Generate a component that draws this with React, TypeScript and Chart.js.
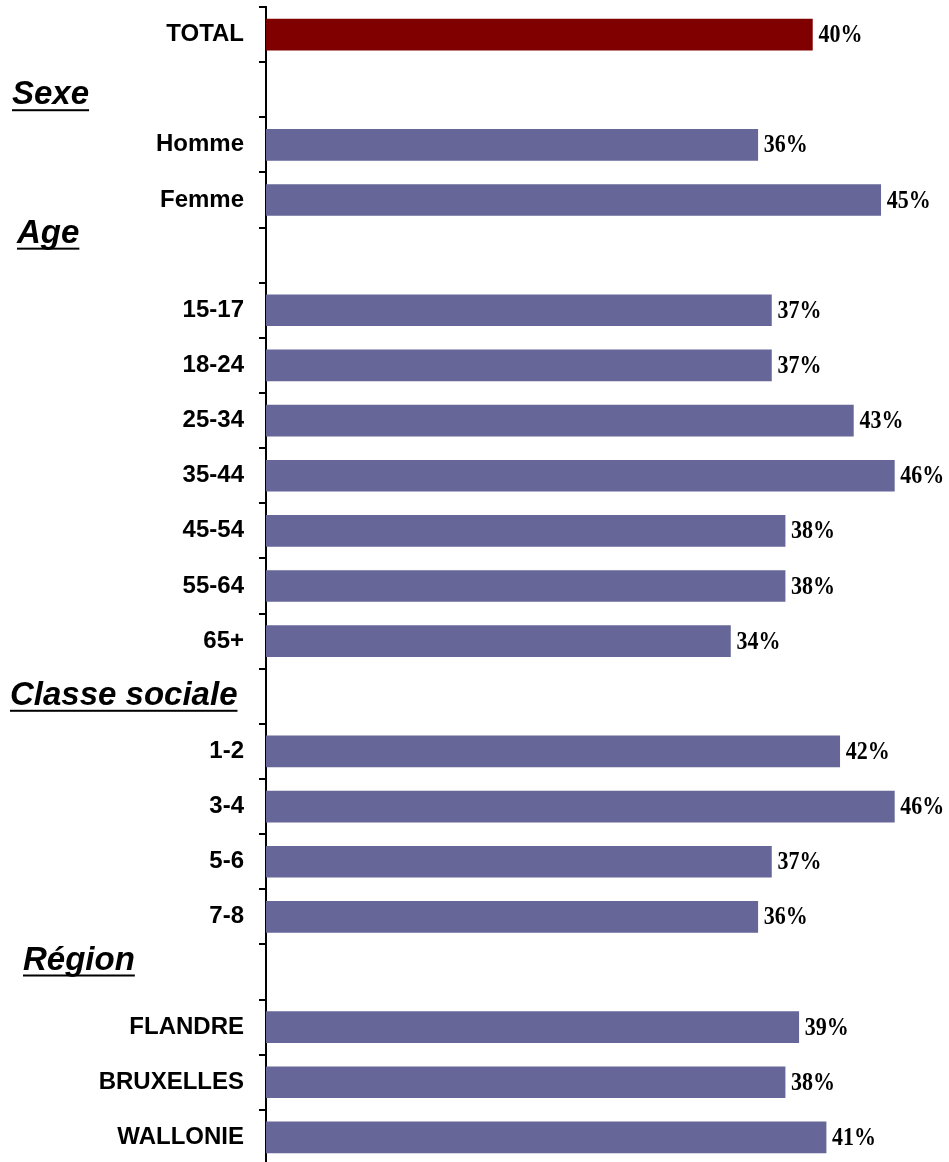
import React, { useEffect, useRef } from "react";
import { Chart, registerables } from "chart.js";

Chart.register(...registerables);

// ---- data ----
const categories: string[] = [
  "TOTAL",
  "",
  "Homme",
  "Femme",
  "",
  "15-17",
  "18-24",
  "25-34",
  "35-44",
  "45-54",
  "55-64",
  "65+",
  "",
  "1-2",
  "3-4",
  "5-6",
  "7-8",
  "",
  "FLANDRE",
  "BRUXELLES",
  "WALLONIE",
];

const values: (number | null)[] = [
  40, null, 36, 45, null, 37, 37, 43, 46, 38, 38, 34, null, 42, 46, 37, 36, null, 39, 38, 41,
];

const sectionTitles: string[] = ["Sexe", "Age", "Classe sociale", "Région"];
const sectionRows: number[] = [1, 4, 12, 17];

const xMin = 0;
const xMax = 50;

// ---- styling ----
const TOTAL_COLOR = "#800000";
const BAR_COLOR = "#666699";
const sectionLayout = [
  { x: 12, dy: 14.5 },
  { x: 17, dy: -12.5 },
  { x: 10, dy: 8.5 },
  { x: 23, dy: -2.5 },
];

const valueLabelPlugin = {
  id: "valueLabels",
  afterDatasetsDraw(chart: any) {
    const ctx = chart.ctx;
    const meta = chart.getDatasetMeta(0);
    meta.data.forEach((bar: any, i: number) => {
      const v = values[i];
      if (v == null || !isFinite(bar.x) || !isFinite(bar.y)) return;
      ctx.save();
      ctx.translate(bar.x + 6, bar.y + 1);
      ctx.scale(1, 1.15);
      ctx.font = 'bold 22px "Liberation Serif", "Times New Roman", serif';
      ctx.fillStyle = "#000";
      ctx.textAlign = "left";
      ctx.textBaseline = "middle";
      ctx.fillText(`${v}%`, 0, 0);
      ctx.restore();
    });
  },
};

const sectionPlugin = {
  id: "sections",
  afterDraw(chart: any) {
    const ctx = chart.ctx;
    const yScale = chart.scales.y;
    sectionTitles.forEach((title, k) => {
      const lay = sectionLayout[k];
      const y = yScale.getPixelForValue(sectionRows[k]) + lay.dy;
      ctx.save();
      ctx.font = 'italic bold 33px "Liberation Sans", Arial, sans-serif';
      ctx.fillStyle = "#000";
      ctx.textAlign = "left";
      ctx.textBaseline = "alphabetic";
      ctx.fillText(title, lay.x, y);
      const w = ctx.measureText(title).width;
      ctx.fillRect(lay.x, y + 5, w, 2);
      ctx.restore();
    });
  },
};

export default function App() {
  const canvasRef = useRef<HTMLCanvasElement | null>(null);

  useEffect(() => {
    if (!canvasRef.current) return;
    const chart = new Chart(canvasRef.current, {
      type: "bar",
      data: {
        labels: categories,
        datasets: [
          {
            data: values as any,
            backgroundColor: values.map((_, i) => (i === 0 ? TOTAL_COLOR : BAR_COLOR)),
            borderWidth: 0,
            barThickness: 31,
          },
        ],
      },
      options: {
        indexAxis: "y",
        responsive: false,
        animation: false,
        layout: { padding: { top: 7, bottom: 0, left: 0, right: 0 } },
        plugins: {
          legend: { display: false },
          tooltip: { enabled: false },
        },
        scales: {
          x: {
            display: false,
            min: xMin,
            max: xMax,
          },
          y: {
            type: "category",
            offset: true,
            grid: {
              display: true,
              offset: true,
              drawOnChartArea: false,
              drawTicks: true,
              tickLength: 7,
              color: "#000",
              lineWidth: 2,
            },
            border: { display: true, color: "#000", width: 2 },
            ticks: {
              autoSkip: false,
              color: "#000",
              padding: 15,
              font: { family: '"Liberation Sans", Arial, sans-serif', weight: "bold", size: 24 },
            },
            afterFit: (scale: any) => {
              scale.width = 266;
              scale.paddingTop = 0;
              scale.paddingBottom = 0;
            },
          },
        },
      } as any,
      plugins: [valueLabelPlugin, sectionPlugin],
    });
    return () => chart.destroy();
  }, []);

  return (
    <div
      style={{
        position: "absolute",
        left: 0,
        top: 0,
        width: 949,
        height: 1162,
        overflow: "hidden",
        background: "#fff",
      }}
    >
      <canvas ref={canvasRef} width={949} height={1165} style={{ display: "block" }} />
    </div>
  );
}
